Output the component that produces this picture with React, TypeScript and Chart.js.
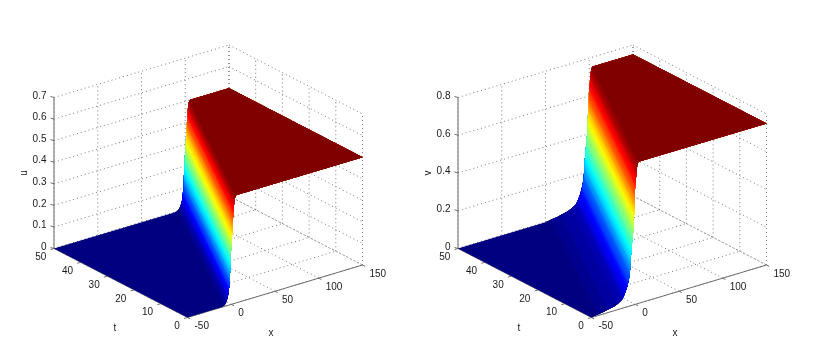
import React, { useEffect, useRef } from "react";
import { Chart, registerables } from "chart.js";

Chart.register(...registerables);

const xTicks = [-50, 0, 50, 100, 150];
const tTicks = [0, 10, 20, 30, 40, 50];
const uTicks = [0, 0.1, 0.2, 0.3, 0.4, 0.5, 0.6, 0.7];
const vTicks = [0, 0.2, 0.4, 0.6, 0.8];

// Height of the u wave and, for each height, its distance in x from the wave's centre
const uLevels = [0, 0.002, 0.005, 0.01, 0.02, 0.03, 0.04, 0.05, 0.06, 0.07, 0.08, 0.09, 0.1, 0.11, 0.12, 0.13, 0.14, 0.15, 0.16, 0.17, 0.18, 0.19, 0.2, 0.21, 0.22, 0.23, 0.24, 0.25, 0.26, 0.27, 0.28, 0.29, 0.3, 0.31, 0.32, 0.33, 0.34, 0.35, 0.36, 0.37, 0.38, 0.39, 0.4, 0.41, 0.42, 0.43, 0.44, 0.45, 0.46, 0.47, 0.48, 0.49, 0.495, 0.5];
const uOffsets = [-12, -9.4, -7.8, -6.5, -5.2, -4.4, -3.7, -3.25, -2.9, -2.6, -2.3, -2.05, -1.75, -1.63, -1.52, -1.41, -1.3, -1.2, -1.1, -1.0, -0.95, -0.82, -0.69, -0.55, -0.41, -0.27, -0.13, 0, 0.15, 0.3, 0.46, 0.62, 0.78, 0.93, 1.09, 1.25, 1.4, 1.56, 1.72, 1.88, 2.03, 2.19, 2.35, 2.5, 2.67, 2.83, 3.0, 3.17, 3.35, 3.6, 3.95, 4.5, 5, 6.2];
const uCentre = [-0.2, 99.6]; // at t = 0 and t = 50

const vLevels = [0, 0.003, 0.006, 0.01, 0.015, 0.022, 0.03, 0.045, 0.06, 0.075, 0.09, 0.105, 0.12, 0.135, 0.15, 0.165, 0.18, 0.195, 0.21, 0.225, 0.24, 0.255, 0.27, 0.285, 0.3, 0.315, 0.33, 0.345, 0.36, 0.375, 0.39, 0.405, 0.42, 0.435, 0.45, 0.465, 0.48, 0.495, 0.51, 0.525, 0.54, 0.555, 0.57, 0.585, 0.6, 0.615, 0.63, 0.645, 0.66, 0.675, 0.69, 0.705, 0.72, 0.735, 0.75];
const vOffsets = [-47, -44, -40, -33, -29, -22, -17.5, -12.5, -10.5, -9, -7.7, -6.6, -5.7, -4.95, -4.3, -3.75, -3.3, -3.12, -2.93, -2.74, -2.55, -2.36, -2.15, -1.85, -1.55, -1.25, -0.95, -0.65, -0.33, 0, 0.3, 0.6, 0.9, 1.02, 1.13, 1.25, 1.36, 1.48, 1.59, 1.71, 1.82, 1.94, 2.05, 2.17, 2.3, 2.55, 2.8, 3.1, 3.4, 3.7, 4.0, 4.35, 4.7, 5.2, 6.3];
const vCentre = [-2.7, 97];

const W = 434;
const H = 349;
const FONT = "Liberation Sans";
const GRID = "#5a5a5a";
const AXIS = "#6e6e6e";
const TEXT = "#1a1a1a";

function jet(f: number) {
  const c = (v: number) => Math.round(255 * Math.max(0, Math.min(1, v)));
  const q = Math.round(f * 63) / 63;
  return `rgb(${c(1.5 - Math.abs(4 * q - 3))},${c(1.5 - Math.abs(4 * q - 2))},${c(1.5 - Math.abs(4 * q - 1))})`;
}

type PanelProps = { left: number; name: string; ticks: number[]; levels: number[]; offsets: number[]; centre: number[] };

function buildDatasets(ticks: number[], levels: number[], offsets: number[], centre: number[]) {
  const zMax = ticks[ticks.length - 1];
  const xMin = xTicks[0];
  const xMax = xTicks[xTicks.length - 1];
  const tMax = tTicks[tTicks.length - 1];
  const p = (x: number, t: number, z: number) => ({
    x: 187.5 + ((x - xMin) * 175) / (xMax - xMin) - (t * 133.5) / tMax,
    y: 317.5 - ((x - xMin) * 52.5) / (xMax - xMin) - (t * 69) / tMax - (z * 151) / zMax,
  });
  const ds: any[] = [];
  const line = (a: any, b: any, color: string, dash: number[] = [], width = 0.8) =>
    ds.push({ data: [a, b], showLine: true, borderColor: color, borderWidth: width, borderDash: dash, pointRadius: 0, fill: false, clip: false });
  const dot = [1, 3];

  // back walls and floor
  for (const x of xTicks) {
    line(p(x, 0, 0), p(x, tMax, 0), GRID, dot);
    line(p(x, tMax, 0), p(x, tMax, zMax), GRID, dot);
  }
  for (const t of tTicks) {
    line(p(xMin, t, 0), p(xMax, t, 0), GRID, dot);
    line(p(xMax, t, 0), p(xMax, t, zMax), GRID, dot);
  }
  for (const z of ticks) {
    line(p(xMin, tMax, z), p(xMax, tMax, z), GRID, dot);
    line(p(xMax, tMax, z), p(xMax, 0, z), GRID, dot);
  }
  // solid axes and tick marks
  line(p(xMin, tMax, 0), p(xMin, tMax, zMax), AXIS, [], 1);
  line(p(xMin, 0, 0), p(xMax, 0, 0), AXIS, [], 1);
  line(p(xMin, 0, 0), p(xMin, tMax, 0), AXIS, [], 1);
  for (const z of ticks) {
    const a = p(xMin, tMax, z);
    line(a, { x: a.x - 3.5, y: a.y - 1 }, AXIS, [], 1);
  }
  for (const t of tTicks) {
    const a = p(xMin, t, 0);
    line(a, { x: a.x - 3.5, y: a.y + 1 }, AXIS, [], 1);
  }
  for (const x of xTicks) {
    const a = p(x, 0, 0);
    line(a, { x: a.x + 2.7, y: a.y + 1.4 }, AXIS, [], 1);
  }

  // surface: each colour covers everything from its own height up to the far plateau,
  // so painting from the floor upward leaves no seams between bands
  const n = levels.length - 1;
  const top = levels[n];
  const sheet = (from: number, color: string, withFloor: boolean) => {
    const near: any[] = [];
    const far: any[] = [];
    for (let j = from; j <= n; j++) {
      near.push(p(centre[0] + offsets[j], 0, levels[j]));
      far.unshift(p(centre[1] + offsets[j], tMax, levels[j]));
    }
    const data = [...(withFloor ? [p(xMin, 0, 0)] : []), ...near, p(xMax, 0, top), p(xMax, tMax, top), ...far, ...(withFloor ? [p(xMin, tMax, 0)] : [])];
    data.push(data[0]);
    ds.push({ data, showLine: true, borderColor: color, backgroundColor: color, borderWidth: 0, pointRadius: 0, fill: "shape", clip: false });
  };
  sheet(0, jet(0), true);
  for (let i = 1; i <= n; i++) {
    sheet(i - 1, jet((levels[i] + levels[i - 1]) / 2 / top), false);
  }
  sheet(n, jet(1), false);

  return { ds, p, zMax, tMax, xMin };
}

function Panel({ left, name, ticks, levels, offsets, centre }: PanelProps) {
  const ref = useRef<HTMLCanvasElement>(null);
  useEffect(() => {
    const { ds, p, tMax, xMin } = buildDatasets(ticks, levels, offsets, centre);
    const labels = {
      id: "axisText",
      afterDatasetsDraw(chart: any) {
        const { ctx, scales } = chart;
        const put = (s: string, px: number, py: number, align: CanvasTextAlign, rotate = false) => {
          const X = scales.x.getPixelForValue(px);
          const Y = scales.y.getPixelForValue(py);
          ctx.save();
          ctx.translate(X, Y);
          if (rotate) ctx.rotate(-Math.PI / 2);
          ctx.font = `10px "${FONT}"`;
          ctx.fillStyle = TEXT;
          ctx.textAlign = align;
          ctx.textBaseline = "middle";
          ctx.fillText(s, 0, 0);
          ctx.restore();
        };
        for (const z of ticks) {
          const a = p(xMin, tMax, z);
          put(String(z), a.x - 7.5, a.y - 1.5, "right");
        }
        for (const t of tTicks) {
          const a = p(xMin, t, 0);
          put(String(t), a.x - 7.7, a.y + 9, "right");
        }
        for (const x of xTicks) {
          const a = p(x, 0, 0);
          put(String(x), a.x + 7, a.y + 9, "left");
        }
        put(name, 24, 173, "center", true);
        put("t", 115, 328, "center");
        put("x", 271, 333, "center");
      },
    };
    const chart = new Chart(ref.current as HTMLCanvasElement, {
      type: "scatter",
      data: { datasets: ds.map((d, i) => ({ ...d, order: -i })) },
      options: {
        responsive: false,
        animation: false,
        parsing: false,
        normalized: false,
        layout: { padding: 0 },
        plugins: { legend: { display: false }, tooltip: { enabled: false }, title: { display: false } },
        scales: {
          x: { type: "linear", min: 0, max: W, display: false },
          y: { type: "linear", min: 0, max: H, reverse: true, display: false },
        },
      } as any,
      plugins: [labels as any],
    });
    return () => chart.destroy();
  }, []);
  return <canvas ref={ref} width={W} height={H} style={{ position: "absolute", left, top: 0, width: W, height: H }} />;
}

export default function App() {
  return (
    <div style={{ position: "fixed", left: 0, top: 0, width: 838, height: 349, background: "#fff", overflow: "hidden" }}>
      <Panel left={0} name="u" ticks={uTicks} levels={uLevels} offsets={uOffsets} centre={uCentre} />
      <Panel left={404} name="v" ticks={vTicks} levels={vLevels} offsets={vOffsets} centre={vCentre} />
    </div>
  );
}
